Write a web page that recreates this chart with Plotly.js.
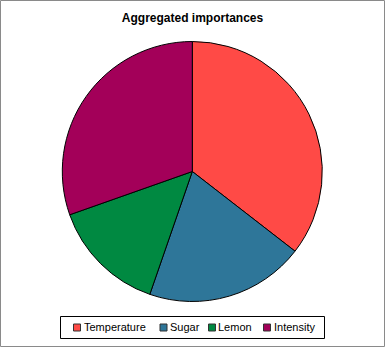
<!DOCTYPE html>
<html>
<head>
<meta charset="utf-8">
<script src="https://cdn.plot.ly/plotly-3.0.1.min.js"></script>
<style>
html,body{margin:0;padding:0;background:#fff;}
#chart{width:385px;height:347px;}
</style>
</head>
<body>
<div id="chart"></div>
<script>
// Data
const categories = ["Temperature", "Sugar", "Lemon", "Intensity"];
const importances = [35.5, 19.8, 14.3, 30.4];
const colors = ["#FF4A46", "#2E7699", "#008941", "#A30059"];
const chartTitle = "Aggregated importances";

// Layout helpers (pixels -> paper)
const W = 385, H = 347;
const px = x => x / W;
const py = y => 1 - y / H;

// Pie geometry
const cx = 192.3, cy = 171.5, r = 130;

// Legend layout (pixel positions)
const legendMarkerX = [73.5, 160, 208.5, 263.5];
const legendTextX = [82, 168, 216, 272];
const legendY = 327;
const mk = 7;

const shapes = [
  // outer frame
  {type:"rect", xref:"paper", yref:"paper", x0:px(0.5), x1:px(W-0.5), y0:py(0.5), y1:py(H-0.5),
   line:{color:"#8a8a8a", width:1}, fillcolor:"rgba(0,0,0,0)"},
  // legend box
  {type:"rect", xref:"paper", yref:"paper", x0:px(60.5), x1:px(324.5), y0:py(316.5), y1:py(338.5),
   line:{color:"#000", width:1}, fillcolor:"rgba(0,0,0,0)"}
];
const annotations = [];
categories.forEach((c, i) => {
  shapes.push({type:"rect", xref:"paper", yref:"paper",
    x0:px(legendMarkerX[i]), x1:px(legendMarkerX[i]+mk),
    y0:py(legendY-mk/2+0.5), y1:py(legendY+mk/2+0.5),
    line:{color:"#333", width:1}, fillcolor:colors[i]});
  annotations.push({xref:"paper", yref:"paper", x:px(legendTextX[i]), y:py(legendY),
    xanchor:"left", yanchor:"middle", showarrow:false, text:c,
    font:{family:"Liberation Sans, Arial, sans-serif", size:11, color:"#000"}});
});

const data = [{
  type: "pie",
  labels: categories,
  values: importances,
  sort: false,
  direction: "clockwise",
  rotation: 0,
  textinfo: "none",
  hoverinfo: "label+percent",
  marker: {colors: colors, line: {color: "#000", width: 1}},
  domain: {x: [px(cx - r), px(cx + r)], y: [py(cy + r), py(cy - r)]},
  showlegend: false
}];

const layout = {
  width: W, height: H,
  margin: {l:0, r:0, t:0, b:0, pad:0},
  paper_bgcolor: "#fff",
  plot_bgcolor: "#fff",
  showlegend: false,
  title: {text: "<b>" + chartTitle + "</b>", x: 0.5, xanchor: "center",
          y: py(18), yanchor: "middle", yref: "paper",
          font: {family: "Liberation Sans, Arial, sans-serif", size: 12, color: "#000"}},
  shapes: shapes,
  annotations: annotations
};

Plotly.newPlot("chart", data, layout, {displayModeBar: false, staticPlot: true});
</script>
</body>
</html>
